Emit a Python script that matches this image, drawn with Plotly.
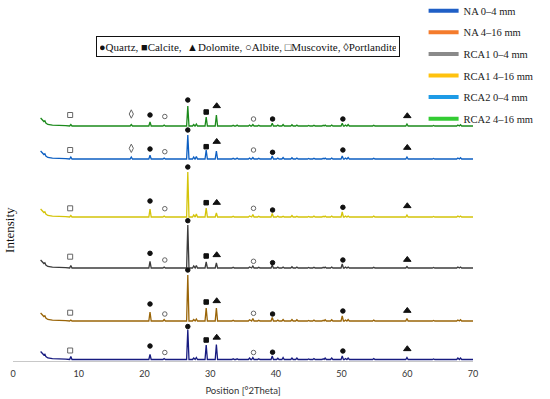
import plotly.graph_objects as go

# ---------------- data ----------------
SAMPLES = ["RCA2 4–16 mm", "RCA2 0–4 mm", "RCA1 4–16 mm", "RCA1 0–4 mm", "NA 4–16 mm", "NA 0–4 mm"]
TRACE_COLORS = ["#1b8a1b", "#0d5fc2", "#d4c40a", "#3c3c3c", "#9a6508", "#171b80"]
OFFSETS = [235, 202, 144, 93, 40, 1.5]          # vertical stacking of the patterns

LEGEND_NAMES = ["NA 0–4 mm", "NA 4–16 mm", "RCA1 0–4 mm", "RCA1 4–16 mm", "RCA2 0–4 mm", "RCA2 4–16 mm"]
LEGEND_COLORS = ["#1f5fc6", "#f47b2c", "#8a8a8a", "#ffc20e", "#1e9be6", "#33cc33"]

# low-angle start of every pattern (2θ, intensity)
START_X = [4.2, 4.5, 4.7, 4.85, 5.0, 5.3, 6.0, 8.0]
START_Y = [8.0, 6.0, 4.5, 5.3, 3.0, 1.5, 0.8, 0.4]

# peak positions (°2θ) and heights per sample [RCA2 4-16, RCA2 0-4, RCA1 4-16, RCA1 0-4, NA 4-16, NA 0-4]
PEAK_POS = [8.8, 18.0, 20.85, 23.0, 26.6, 27.5, 27.9, 29.4, 30.95, 33.5, 34.1, 36.0, 36.5, 37.4,
            39.45, 40.3, 41.1, 42.45, 43.2, 45.0, 45.8, 47.2, 47.5, 48.5, 50.1, 50.6, 51.0,
            54.9, 57.4, 59.95, 64.0, 65.6, 67.7, 68.1]
PEAK_H = {
    "RCA2 4–16 mm": [1.5, 1.5, 4.0, 1.0, 20, 1.5, 2.0, 9.0, 11, 0.8, 1.0, 1.0, 1.5, 0.8,
                     2.7, 1.0, 1.5, 1.2, 1.0, 0.6, 0.8, 0.8, 1.0, 1.0, 2.7, 1.0, 1.5,
                     0.8, 0.5, 2.0, 0.5, 0.5, 1.0, 1.2],
    "RCA2 0–4 mm":  [2.0, 2.0, 3.7, 1.0, 24, 2.0, 2.5, 9.0, 8.0, 0.8, 1.0, 1.0, 1.5, 0.8,
                     3.0, 1.0, 1.5, 1.2, 1.0, 0.6, 0.8, 0.8, 1.0, 1.0, 3.0, 1.0, 1.5,
                     0.8, 0.5, 2.0, 0.5, 0.5, 1.0, 1.2],
    "RCA1 4–16 mm": [1.5, 0.0, 8.0, 1.0, 45, 2.0, 3.0, 9.0, 4.0, 0.8, 0.5, 1.0, 2.5, 0.8,
                     3.5, 1.0, 0.8, 1.5, 0.8, 0.6, 1.0, 0.8, 1.0, 1.0, 5.0, 1.0, 1.0,
                     1.0, 0.5, 2.0, 0.5, 0.5, 1.0, 1.0],
    "RCA1 0–4 mm":  [2.5, 0.0, 6.7, 1.0, 43, 2.0, 2.5, 6.0, 5.0, 0.8, 0.5, 1.0, 2.0, 0.8,
                     3.0, 1.0, 1.0, 1.2, 1.0, 0.6, 0.8, 0.8, 1.0, 1.0, 4.0, 1.0, 1.0,
                     0.8, 0.5, 1.5, 0.5, 0.5, 1.0, 1.0],
    "NA 4–16 mm":   [1.0, 0.0, 9.0, 1.5, 46, 1.5, 2.0, 13, 13, 0.8, 0.5, 1.2, 2.5, 0.8,
                     3.5, 1.0, 1.5, 1.5, 1.2, 0.6, 1.0, 0.8, 1.2, 1.2, 5.0, 1.0, 1.5,
                     1.0, 0.5, 2.5, 0.5, 0.5, 1.0, 1.2],
    "NA 0–4 mm":    [3.0, 0.0, 5.0, 1.0, 30, 1.5, 2.0, 14.5, 15, 0.8, 0.8, 1.5, 2.0, 0.8,
                     3.5, 1.2, 2.0, 1.5, 1.5, 0.6, 1.0, 0.8, 1.5, 1.5, 3.5, 1.0, 1.5,
                     1.0, 0.5, 2.0, 0.5, 0.5, 1.5, 1.5],
}
END_X = 70.0

# phase labels above the peaks
MARK_X = [8.7, 18.0, 20.85, 23.1, 26.6, 29.4, 31.0, 36.6, 39.5, 50.2, 60.0]
MARK_PHASE = ["Muscovite", "Portlandite", "Quartz", "Albite", "Quartz", "Calcite", "Dolomite",
              "Albite", "Quartz", "Quartz", "Dolomite"]
MARK_H = {
    "RCA2 4–16 mm": [11, 12, 11, 9.5, 26, 14, 20, 7, 7, 7, 10],
    "RCA2 0–4 mm":  [9, 10.7, 10, 7.3, 29, 12.3, 17.3, 9, 6.7, 9, 11.3],
    "RCA1 4–16 mm": [8.7, None, 16, 8.3, 50, 14.3, 14.3, 8.7, 7, 9.7, 11],
    "RCA1 0–4 mm":  [11.3, None, 14.7, 8, 47.3, 12, 13, 6.7, 5.3, 8, 8.3],
    "NA 4–16 mm":   [8.3, None, 17, 7, 51, 19, 20, 7.7, 7, 10, 10.3],
    "NA 0–4 mm":    [9, None, 13.5, 7, 33, 19.5, 22, 7, 7.3, 8.5, 10.5],
}
PHASE_STYLE = {
    "Quartz":      dict(symbol="circle", size=4.5, color="#111111"),
    "Calcite":     dict(symbol="square", size=4.5, color="#111111"),
    "Dolomite":    dict(symbol="triangle-up", size=6.5, color="#111111"),
    "Albite":      dict(symbol="circle-open", size=4.5, color="#666666"),
    "Muscovite":   dict(symbol="square-open", size=5, color="#666666"),
    "Portlandite": dict(symbol="diamond-tall-open", size=6, color="#666666"),
}
HALF_W = 0.18

X_TICKS = [0, 10, 20, 30, 40, 50, 60, 70]

# ---------------- figure ----------------
fig = go.Figure()

for name, color, off in zip(SAMPLES, TRACE_COLORS, OFFSETS):
    xs = list(START_X)
    ys = list(START_Y)
    for p, h in zip(PEAK_POS, PEAK_H[name]):
        if h <= 0:
            continue
        xs += [p - HALF_W, p, p + HALF_W]
        ys += [0.0, h, 0.0]
    xs.append(END_X)
    ys.append(0.0)
    fig.add_trace(go.Scatter(x=xs, y=[v + off for v in ys], mode="lines", name=name,
                             line=dict(color=color, width=1.3), showlegend=False))

    # phase markers
    for phase, st in PHASE_STYLE.items():
        mx, my = [], []
        for x, ph, h in zip(MARK_X, MARK_PHASE, MARK_H[name]):
            if ph == phase and h is not None:
                mx.append(x)
                my.append(h + off)
        if mx:
            fig.add_trace(go.Scatter(x=mx, y=my, mode="markers", showlegend=False, hoverinfo="skip",
                                     marker=dict(symbol=st["symbol"], size=st["size"], color=st["color"],
                                                 line=dict(color=st["color"], width=1))))

# legend entries
for i, (n, c) in enumerate(zip(LEGEND_NAMES, LEGEND_COLORS)):
    fig.add_trace(go.Scatter(x=[None], y=[None], mode="lines", name=n, legendgroup=f"g{i}",
                             line=dict(color=c, width=4)))

fig.update_layout(
    width=550, height=399,
    margin=dict(l=13, r=77, t=61, b=38, autoexpand=False),
    paper_bgcolor="white", plot_bgcolor="white",
    showlegend=True,
    legend=dict(xref="paper", yref="paper", x=0.8926, y=1.216, xanchor="left", yanchor="top",
                font=dict(family="Liberation Serif", size=10.5, color="#222222"),
                bgcolor="rgba(0,0,0,0)", traceorder="grouped", tracegroupgap=2.6),
    xaxis=dict(range=[0, 70], tickvals=X_TICKS, showgrid=False, zeroline=False,
               showline=True, linecolor="#c8c8c8", linewidth=1, ticks="",
               ticklabelstandoff=4,
               tickfont=dict(family="Lato", size=9, color="#333333"),
               title=dict(text="Position [°2Theta]", font=dict(family="Lato", size=9.5, color="#333333"),
                          standoff=9)),
    yaxis=dict(range=[0, 300], visible=False),
    annotations=[
        dict(text="●Quartz, ■Calcite,  ▲Dolomite, ○Albite, □Muscovite, ◊Portlandite",
             xref="paper", yref="paper", x=0.511, y=1.047, xanchor="center", yanchor="middle",
             showarrow=False, font=dict(family="Liberation Serif", size=11, color="#111111"),
             bordercolor="#111111", borderwidth=1, borderpad=3, width=296, height=13),
        dict(text="Intensity", textangle=-90, xref="paper", yref="paper", x=-0.0065, y=0.437,
             xanchor="center", yanchor="middle", showarrow=False,
             font=dict(family="Liberation Serif", size=13, color="#111111")),
    ],
)

fig.write_html("out.html", config={"displayModeBar": False},
               post_script="document.body.style.margin='0px';")
